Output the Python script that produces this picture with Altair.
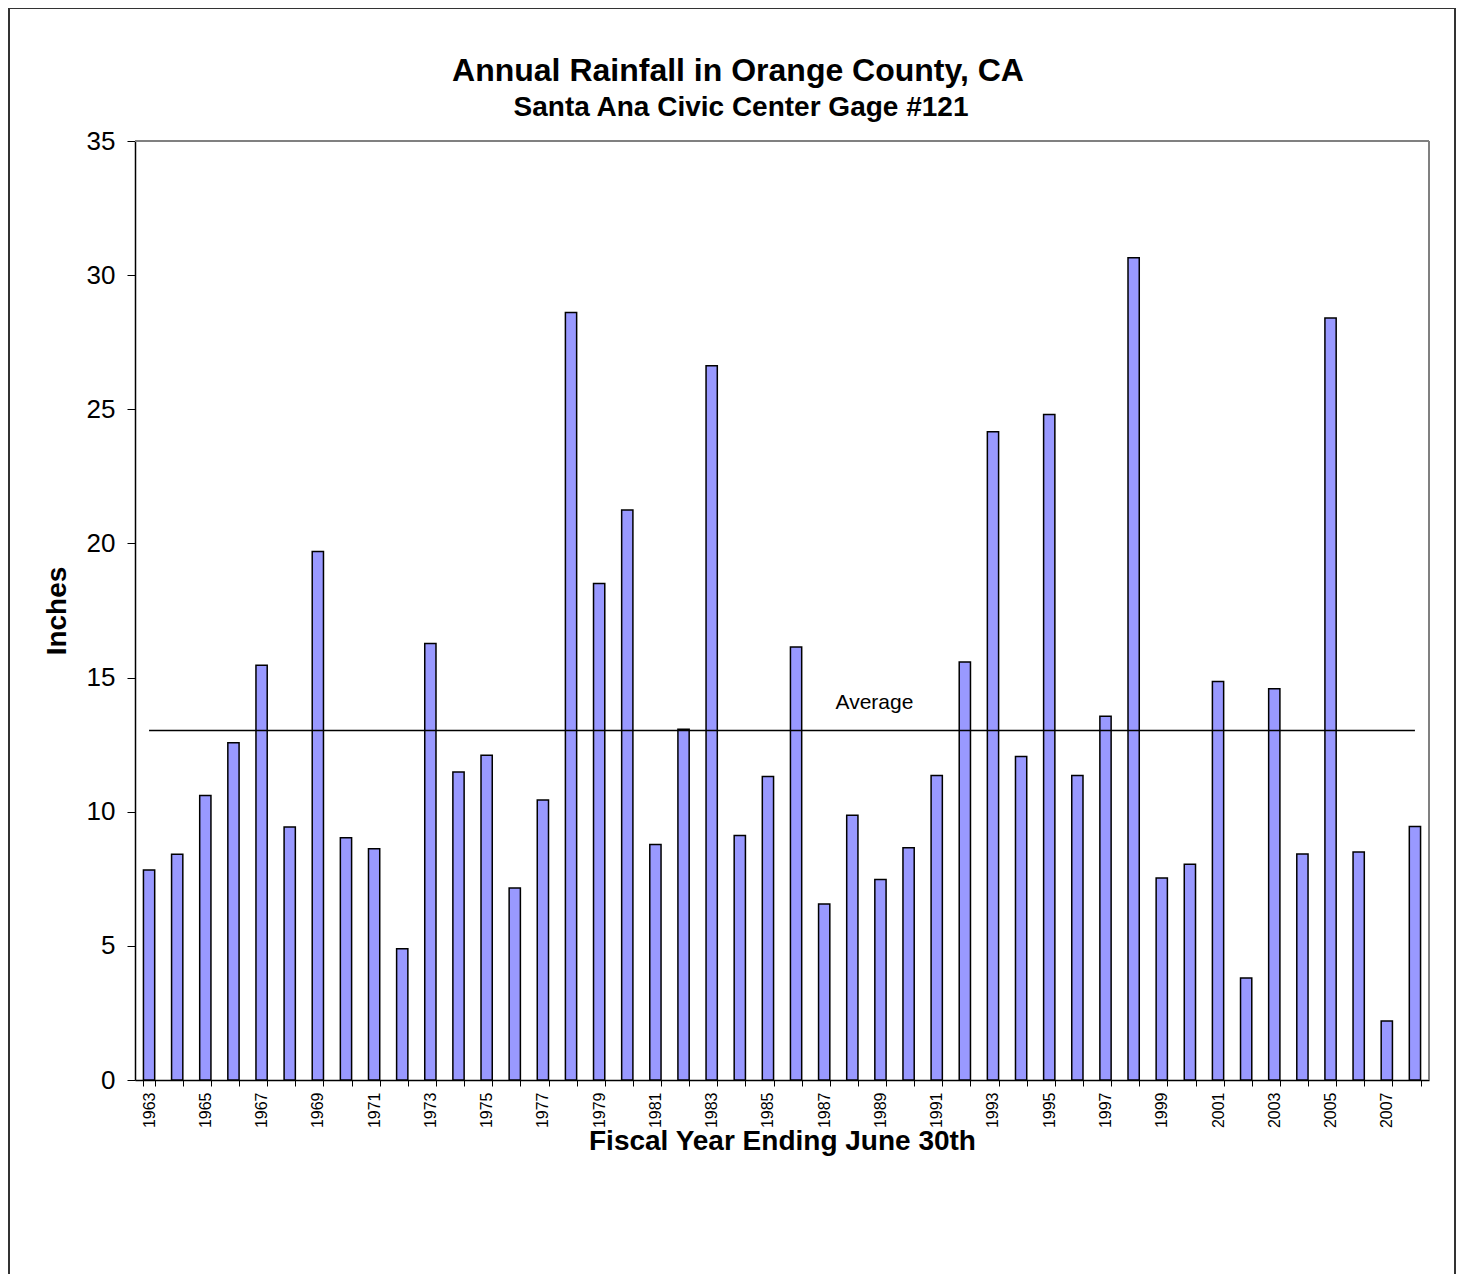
import altair as alt
import pandas as pd

years = list(range(1963, 2009))
rainfall = [7.83, 8.41, 10.6, 12.57, 15.46, 9.43, 19.7, 9.03, 8.62, 4.89,
            16.27, 11.48, 12.1, 7.16, 10.44, 28.61, 18.51, 21.25, 8.78, 13.07,
            26.62, 9.11, 11.31, 16.14, 6.56, 9.87, 7.47, 8.66, 11.35, 15.58,
            24.16, 12.06, 24.81, 11.35, 13.56, 30.65, 7.53, 8.04, 14.85, 3.8,
            14.58, 8.42, 28.4, 8.5, 2.2, 9.45]
average_value = 13.03
average_label = "Average"
average_label_year = 1989
title_text = "Annual Rainfall in Orange County, CA"
subtitle_text = "Santa Ana Civic Center Gage #121"

W, H = 1294, 939
PL, PT, PR, PB = 127, 133, 27, 194

df = pd.DataFrame({"year": years, "inches": rainfall})
avg_df = pd.DataFrame({"start": [years[0]], "end": [years[-1]], "avg": [average_value]})
lbl_df = pd.DataFrame({"year": [average_label_year], "avg": [average_value], "label": [average_label]})
title_df = pd.DataFrame({"t": [title_text]})
subtitle_df = pd.DataFrame({"t": [subtitle_text]})
one_df = pd.DataFrame({"k": [0]})

FONT = "Liberation Sans"

x_scale = alt.Scale(domain=years, paddingInner=0.6, paddingOuter=0.3)
y_scale = alt.Scale(domain=[0, 35], nice=False)

# gray plot-area border (top and right), drawn first so axes sit over it
top_edge = alt.Chart(one_df).mark_rule(color="#808080", strokeWidth=2).encode(
    x=alt.value(0), x2=alt.value(W), y=alt.value(0)
)
right_edge = alt.Chart(one_df).mark_rule(color="#808080", strokeWidth=2).encode(
    x=alt.value(W), y=alt.value(0), y2=alt.value(H)
)

bars = alt.Chart(df).mark_bar(
    color="#9999FF", stroke="#000000", strokeWidth=1.5
).encode(
    x=alt.X("year:O", scale=x_scale,
            axis=alt.Axis(title="Fiscal Year Ending June 30th",
                          labelAngle=-90, labelFontSize=16, labelFont=FONT,
                          labelColor="#000000", labelOverlap=False,
                          labelExpr="datum.value % 2 == 1 ? datum.label : ''",
                          labelPadding=6, labelBaseline="middle", labelAlign="right",
                          tickBand="extent", tickSize=6, tickColor="#000000",
                          domainColor="#000000", domainWidth=1.5,
                          titleFont=FONT, titleFontSize=28, titleFontWeight="bold",
                          titleColor="#000000", titlePadding=0)),
    y=alt.Y("inches:Q", scale=y_scale,
            axis=alt.Axis(title="Inches", values=list(range(0, 36, 5)),
                          labelFontSize=26, labelFont=FONT, labelColor="#000000",
                          labelPadding=12, tickSize=8, tickColor="#000000",
                          domainColor="#000000", domainWidth=1.5, grid=False,
                          titleFont=FONT, titleFontSize=28, titleFontWeight="bold",
                          titleColor="#000000", titlePadding=15)),
)

avg_rule = alt.Chart(avg_df).mark_rule(color="#000000", strokeWidth=1.5).encode(
    x=alt.X("start:O", scale=x_scale),
    x2="end:O",
    y=alt.Y("avg:Q", scale=y_scale),
)

avg_text = alt.Chart(lbl_df).mark_text(
    font=FONT, fontSize=21, color="#000000", baseline="alphabetic",
    align="center", dy=-21, dx=-6
).encode(
    x=alt.X("year:O", scale=x_scale),
    y=alt.Y("avg:Q", scale=y_scale),
    text="label:N",
)

title_mark = alt.Chart(title_df).mark_text(
    font=FONT, fontSize=32, fontWeight="bold", color="#000000",
    align="center", baseline="alphabetic"
).encode(x=alt.value(603), y=alt.value(-60), text="t:N")

subtitle_mark = alt.Chart(subtitle_df).mark_text(
    font=FONT, fontSize=28, fontWeight="bold", color="#000000",
    align="center", baseline="alphabetic"
).encode(x=alt.value(606), y=alt.value(-25), text="t:N")

frame = alt.Chart(one_df).mark_rect(
    fill=None, stroke="#333333", strokeWidth=2
).encode(
    x=alt.value(-PL + 1), x2=alt.value(W + PR - 1),
    y=alt.value(-PT), y2=alt.value(H + PB + 60),
)

chart = alt.layer(top_edge, right_edge, bars, avg_rule, avg_text,
                  title_mark, subtitle_mark, frame).properties(
    width=W, height=H,
    padding={"left": PL, "top": PT, "right": PR, "bottom": PB},
    autosize=alt.AutoSizeParams(type="none"),
).configure_view(stroke="transparent").configure(background="#ffffff")

chart.save("out.html", embed_options={"renderer": "svg", "actions": False})
